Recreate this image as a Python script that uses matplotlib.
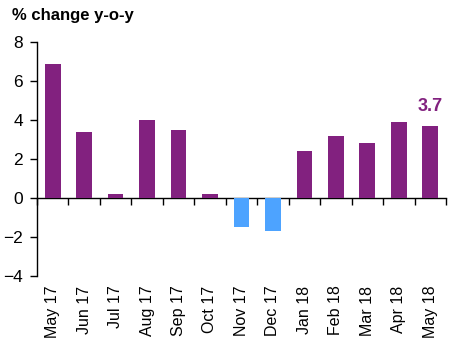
import numpy as np
import matplotlib.pyplot as plt

plt.rcParams['font.family'] = ['Liberation Sans', 'DejaVu Sans']

# data
months = ['May 17', 'Jun 17', 'Jul 17', 'Aug 17', 'Sep 17', 'Oct 17', 'Nov 17',
          'Dec 17', 'Jan 18', 'Feb 18', 'Mar 18', 'Apr 18', 'May 18']
values = [6.9, 3.4, 0.2, 4.0, 3.5, 0.2, -1.5, -1.7, 2.4, 3.2, 2.8, 3.9, 3.7]
y_ticks = [-4, -2, 0, 2, 4, 6, 8]

purple = '#82217f'
blue = '#4da3ff'
colors = [purple if v >= 0 else blue for v in values]

fig = plt.figure(figsize=(4.56, 3.51), dpi=100)
ax = fig.add_axes([0.081, 0.214, 0.897, 0.666])

x = np.arange(len(months))
ax.bar(x, values, width=0.5, color=colors, zorder=2)

ax.set_xlim(-0.5, len(months) - 0.5)
ax.set_ylim(-4, 8)
ax.set_yticks(y_ticks)
ax.tick_params(axis='y', direction='out', length=5, width=1, labelsize=12.5, pad=5)

# month labels at the bottom, no tick marks there
ax.set_xticks(x)
ax.set_xticklabels(months, rotation=90, fontsize=11.5)
ax.tick_params(axis='x', length=0, pad=7)

for s in ['top', 'right', 'bottom']:
    ax.spines[s].set_visible(False)
ax.spines['left'].set_linewidth(1)

# zero line with boundary ticks
zero_pos = (0 - (-4)) / (8 - (-4))
sec = ax.secondary_xaxis(zero_pos)
sec.set_xticks(np.arange(len(months) + 1) - 0.5)
sec.set_xticklabels([])
sec.tick_params(axis='x', direction='out', length=5, width=1)
sec.spines['bottom'].set_linewidth(1)

ax.annotate('3.7', (x[-1], values[-1]), xytext=(0, 8), textcoords='offset points',
            ha='center', va='bottom', color=purple, fontsize=13, fontweight='bold')

fig.text(0.026, 0.955, '% change y-o-y', fontsize=12, fontweight='bold', va='center')

fig.savefig('out.png', dpi=100)
